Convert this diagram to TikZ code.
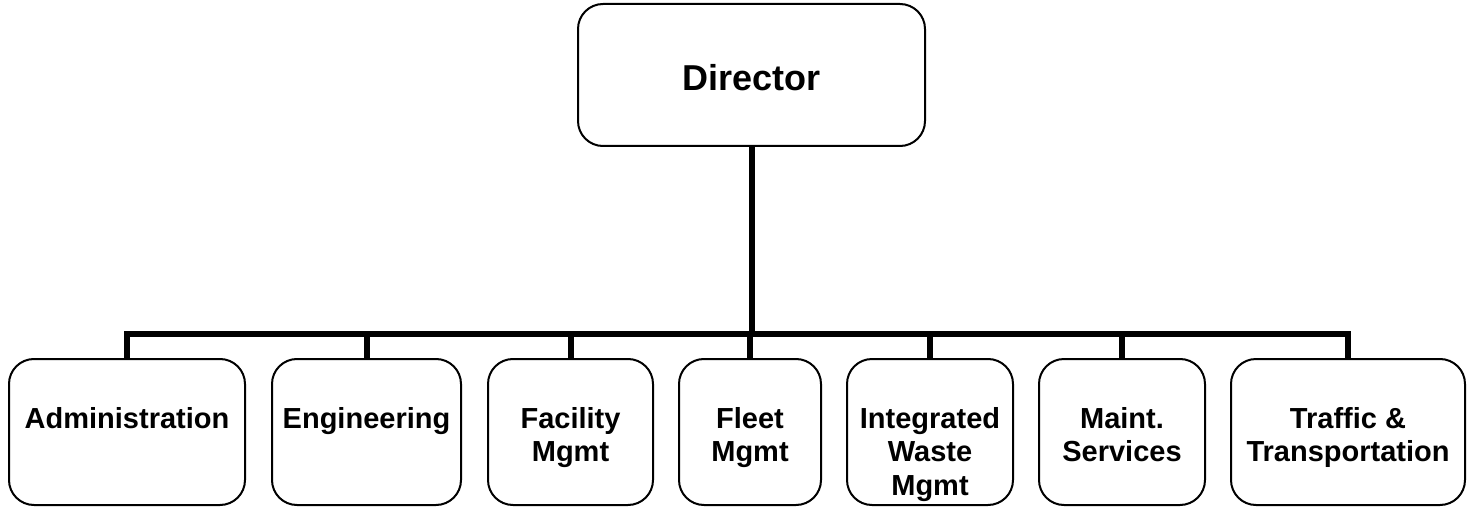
\documentclass[tikz,border=0pt]{standalone}
\usepackage{fontspec}
\setmainfont{Liberation Sans}
\begin{document}
\begin{tikzpicture}[x=1pt,y=1pt,
  box/.style={draw=black, line width=2pt, rounded corners=25pt, inner sep=0pt, fill=white},
  conn/.style={draw=black, line width=6pt, line join=miter, line cap=butt},
  lbl/.style={anchor=base, inner sep=0pt, font=\fontsize{29}{33.5}\selectfont\bfseries},
  dirlbl/.style={anchor=base, inner sep=0pt, font=\fontsize{36}{40}\selectfont\bfseries}]
\useasboundingbox (0,0) rectangle (1470,-508);
\coordinate (bus) at (0,-334);
% director
\node[box, minimum width=347pt, minimum height=142pt] (dir) at (751.5,-75) {};
\node[dirlbl] (tdir) at (751.5,-91) {Director};
% department boxes
\node[box, minimum width=236pt, minimum height=146pt] (b1) at (127,-432) {};
\node[box, minimum width=189pt, minimum height=146pt] (b2) at (366.5,-432) {};
\node[box, minimum width=165pt, minimum height=146pt] (b3) at (570.5,-432) {};
\node[box, minimum width=142pt, minimum height=146pt] (b4) at (750,-432) {};
\node[box, minimum width=166pt, minimum height=146pt] (b5) at (930,-432) {};
\node[box, minimum width=166pt, minimum height=146pt] (b6) at (1122,-432) {};
\node[box, minimum width=234pt, minimum height=146pt] (b7) at (1348,-432) {};
% labels
\node[lbl] (t1) at (127,-428) {\begin{tabular}[t]{@{}c@{}}Administration\end{tabular}};
\node[lbl] (t2) at (366.5,-428) {\begin{tabular}[t]{@{}c@{}}Engineering\end{tabular}};
\node[lbl] (t3) at (570.5,-428) {\begin{tabular}[t]{@{}c@{}}Facility\\Mgmt\end{tabular}};
\node[lbl] (t4) at (750,-428) {\begin{tabular}[t]{@{}c@{}}Fleet\\Mgmt\end{tabular}};
\node[lbl] (t5) at (930,-428) {\begin{tabular}[t]{@{}c@{}}Integrated\\Waste\\Mgmt\end{tabular}};
\node[lbl] (t6) at (1122,-428) {\begin{tabular}[t]{@{}c@{}}Maint.\\Services\end{tabular}};
\node[lbl] (t7) at (1348,-428) {\begin{tabular}[t]{@{}c@{}}Traffic \&\\Transportation\end{tabular}};
% connectors
\draw[conn] (dir.south) -- (dir.south |- bus);
\draw[conn] (b1.north) -- (b1.north |- bus) -- (b7.north |- bus) -- (b7.north);
\foreach \b in {b2,b3,b4,b5,b6}{
  \draw[conn] (\b.north) -- (\b.north |- bus);
}
\end{tikzpicture}
\end{document}
